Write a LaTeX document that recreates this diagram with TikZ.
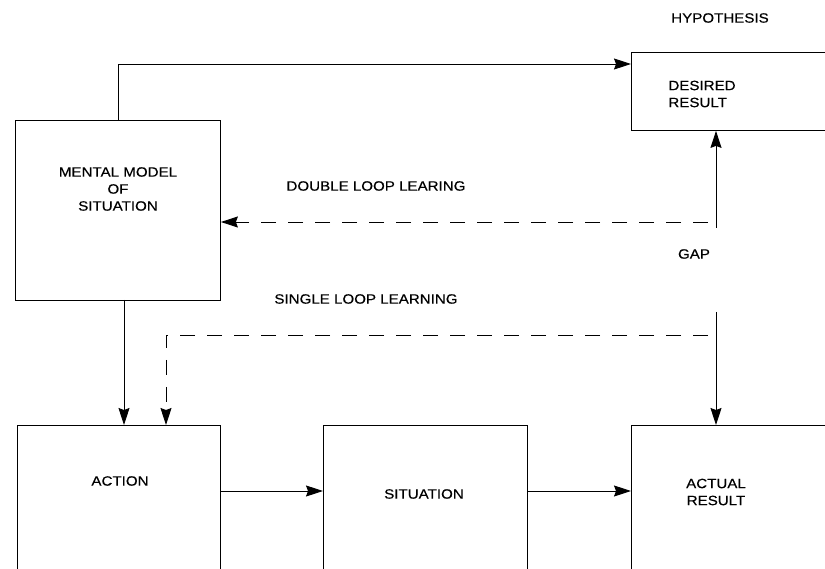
\documentclass[tikz,border=0pt]{standalone}
\usepackage{fontspec}
\setmainfont{Liberation Sans}[FakeStretch=1.12,FakeBold=0.4]
\usetikzlibrary{arrows.meta,calc}
\begin{document}
\begin{tikzpicture}[x=1pt,y=-1pt,
  box/.style={draw,line width=0.9pt,rectangle,inner sep=0pt,anchor=north west},
  lbl/.style={font=\fontsize{13.5}{17}\selectfont,align=center,inner sep=0pt},
  conn/.style={line width=0.9pt,-{Stealth[length=17pt,width=11pt,inset=2pt]}},
  dconn/.style={conn,dash pattern=on 15pt off 12pt}]
  \useasboundingbox (0,0) rectangle (825,569);
  % boxes
  \node[box,minimum width=205pt,minimum height=180pt] (mm) at (15,120) {};
  \node[box,minimum width=220pt,minimum height=78pt] (des) at (631,52) {};
  \node[box,minimum width=203pt,minimum height=170pt] (act) at (17,425) {};
  \node[box,minimum width=204pt,minimum height=170pt] (sit) at (323,425) {};
  \node[box,minimum width=220pt,minimum height=170pt] (res) at (631,425) {};
  % texts
  \node[lbl] (tmm) at (118,189) {MENTAL MODEL\\OF\\SITUATION};
  \node[lbl,align=left] (tdes) at (702,94) {DESIRED\\RESULT};
  \node[lbl] (thyp) at (720,18) {HYPOTHESIS};
  \node[lbl] (tact) at (120,481) {ACTION};
  \node[lbl] (tsit) at (424,494) {SITUATION};
  \node[lbl] (tres) at (716,492) {ACTUAL\\RESULT};
  \node[lbl] (tdl) at (376,186) {DOUBLE LOOP LEARING};
  \node[lbl] (tgap) at (694,254) {GAP};
  \node[lbl] (tsl) at (366,299) {SINGLE LOOP LEARNING};
  % junction points
  \coordinate (hyp) at ($(des.north west)+(0,12)$);
  \coordinate (gapup) at (716,228);
  \coordinate (dlstart) at (708,222);
  \coordinate (gapdown) at (716,312);
  \coordinate (slstart) at (708,335);
  \coordinate (slbend) at (166,335);
  \coordinate (mmout) at (124,300);
  % connectors
  \draw[conn] (mm.north) |- (hyp);
  \draw[conn] (gapup) -- (gapup |- des.south);
  \draw[dconn] (dlstart) -- (mm.east |- dlstart);
  \draw[conn] (gapdown) -- (gapdown |- res.north);
  \draw[dconn] (slstart) -- (slbend) -- (slbend |- act.north);
  \draw[conn] (mmout) -- (mmout |- act.north);
  \draw[conn] (act.east |- 0,491) -- (sit.west |- 0,491);
  \draw[conn] (sit.east |- 0,491) -- (res.west |- 0,491);
\end{tikzpicture}
\end{document}
